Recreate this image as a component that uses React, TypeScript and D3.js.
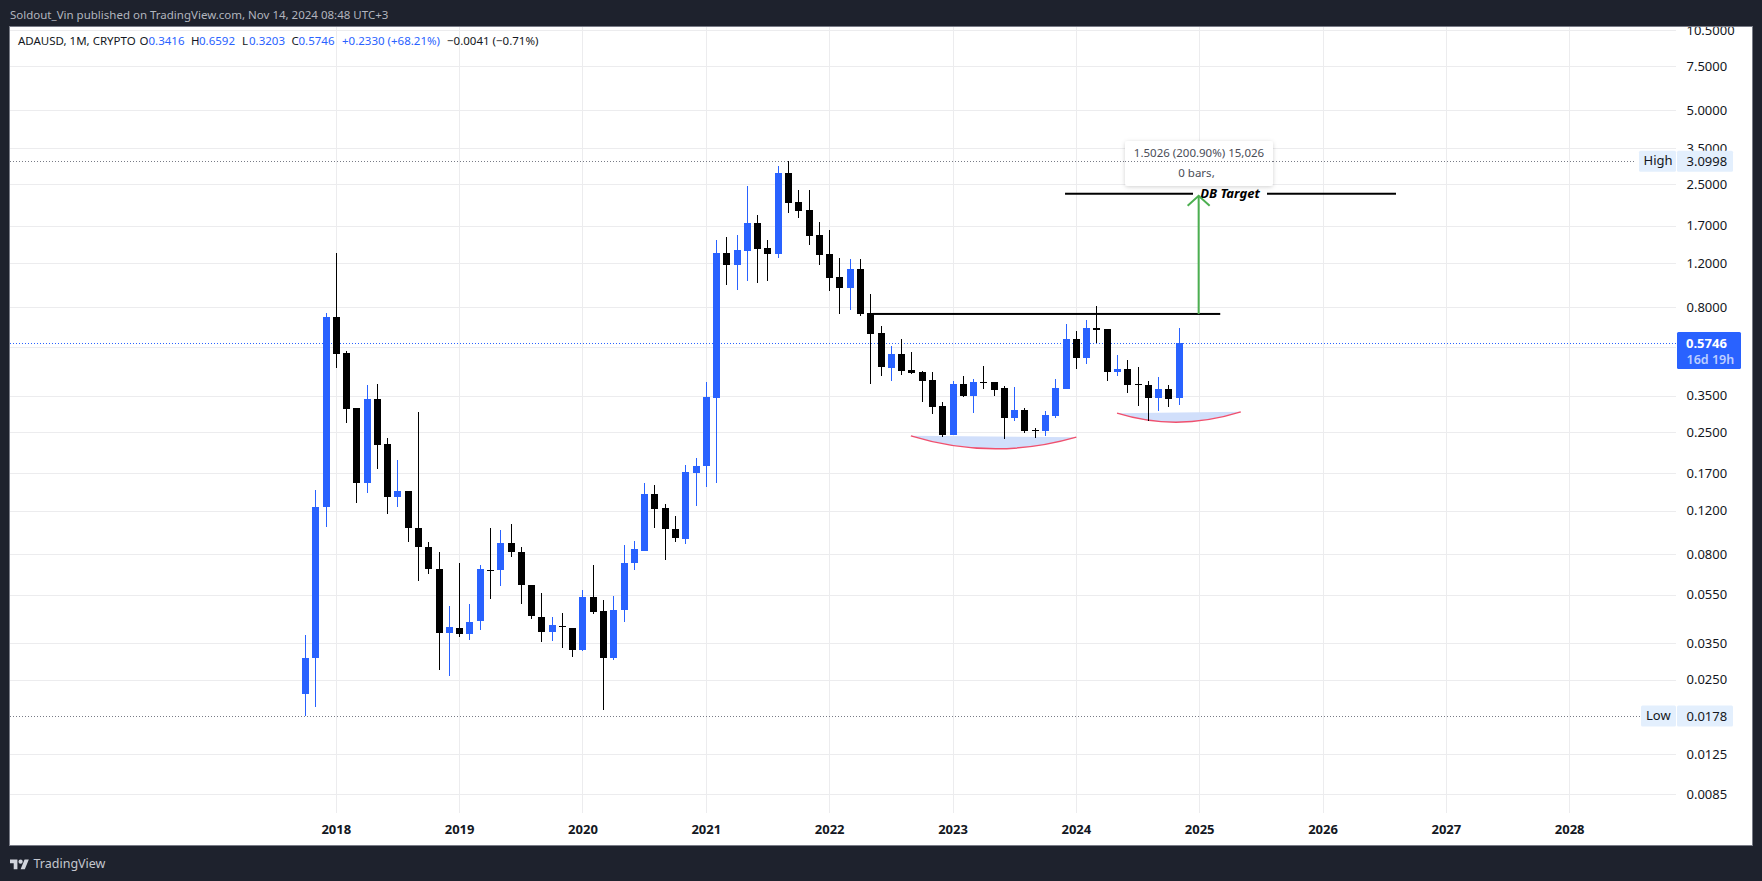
import React from "react";
import * as d3 from "d3";

const firstMonth = -3; // months after 2018-01
const highs = [.03796,.1461,.7546,1.322,.5316,.3130,.3876,.3912,.2368,.1930,.1447,.3016,.09009,.08209,.04970,.07411,.05063,.07275,.1026,.1007,.1065,.08600,.06041,.05608,.04487,.04657,.04051,.05767,.07275,.05255,.05454,.08761,.09093,.1559,.1530,.1282,.1147,.1843,.1967,.3985,1.491,1.534,1.562,2.463,1.881,1.491,2.967,3.0998,2.374,2.374,1.763,1.637,1.262,1.250,1.250,.9029,.6706,.5569,.5943,.5267,.4414,.4373,.3309,.4022,.4214,.4098,.4624,.3985,.3840,.3804,.3130,.2599,.3044,.4098,.6832,.6402,.7091,.8076,.6522,.5122,.4889,.4581,.4022,.4175,.3876,.6592];
const bodyTops = [.03065,.1247,.7291,.7291,.5218,.3130,.3403,.3403,.2240,.1447,.1447,.1026,.08600,.07009,.04089,.04051,.04283,.07009,.06945,.08925,.08925,.08209,.06041,.04487,.04165,.04127,.04051,.05403,.05403,.04744,.04788,.07411,.08441,.1407,.1407,.1236,.1017,.1727,.1826,.3467,1.322,1.322,1.359,1.747,1.747,1.385,2.780,2.780,2.123,1.971,1.562,1.309,1.057,1.139,1.139,.7567,.6284,.5170,.5170,.4455,.4373,.4060,.3188,.3912,.3912,.3985,.3985,.3985,.3769,.3072,.3072,.2551,.2933,.3769,.5943,.5943,.6583,.6583,.6522,.4497,.4497,.3901,.3876,.3734,.3734,.5746];
const bodyBottoms = [.02179,.03045,.1239,.5184,.3109,.1549,.1549,.2225,.1372,.1372,.1019,.08544,.06964,.03842,.03867,.03806,.03806,.04295,.06880,.06900,.08156,.06002,.04499,.03878,.03878,.04062,.03280,.03280,.04700,.03065,.03065,.04788,.07363,.08286,.1224,.1017,.09306,.09263,.1711,.1819,.3435,1.182,1.182,1.346,1.372,1.309,1.309,2.103,1.953,1.548,1.297,1.048,.9573,.9573,.7518,.6243,.4594,.4552,.4426,.4345,.4034,.3168,.2442,.2442,.3499,.3499,.3959,.3700,.2860,.2860,.2527,.2527,.2527,.2905,.3734,.4981,.4981,.6461,.4373,.4373,.3876,.3876,.3435,.3435,.3403,.3416];
const lows = [.0178,.01931,.1029,.4552,.2730,.1286,.1424,.1764,.1161,.1239,.08950,.06229,.06648,.02724,.02576,.03702,.03600,.03950,.05270,.05946,.07786,.05030,.04376,.03534,.03567,.03342,.03074,.03250,.04614,.01883,.02995,.04283,.06945,.08286,.1026,.07621,.09009,.08843,.1259,.1502,.1559,.9817,.9371,1.019,1.000,1.019,1.262,1.917,1.830,1.424,1.182,.9284,.7518,.7803,.7380,.3923,.4225,.4034,.4265,.4305,.3318,.2968,.2397,.2442,.3467,.2988,.3734,.3499,.2353,.2781,.2481,.2375,.2413,.2852,.3734,.4497,.4711,.5726,.4022,.4214,.3598,.3188,.2774,.3044,.3159,.3203];
const risingBars = [0,1,2,6,9,14,16,17,19,24,27,30,31,32,33,37,38,39,40,42,43,46,53,57,63,65,69,72,73,74,76,79,83,85];

const yearLabels = [2018,2019,2020,2021,2022,2023,2024,2025,2026,2027,2028];
const gridPrices = [10.5,7.5,5,3.5,2.5,1.7,1.2,.8,.55,.35,.25,.17,.12,.08,.055,.035,.025,.0125,.0086];
const labelPrices = [10.5,7.5,5,3.5,2.5,1.7,1.2,.8,.35,.25,.17,.12,.08,.055,.035,.025,.0125,.0086];
const priceLabels = ["10.5000","7.5000","5.0000","3.5000","2.5000","1.7000","1.2000","0.8000","0.3500","0.2500","0.1700","0.1200","0.0800","0.0550","0.0350","0.0250","0.0125","0.0085"];
const allTimeHigh = 3.0998, allTimeLow = 0.0178, lastPrice = 0.5746;

const neckline = { from: 52.2, to: 86, price: 0.7497 };
const target = { from: 70.9, to: 103.1, price: 2.2935 };
const arrow = { month: 83.9, from: 0.7497, to: 2.25 };
const cups = [
  { start: [55.9, 0.2412], bottom: [63.9, 0.2138], end: [72, 0.2383] },
  { start: [75.96, 0.2979], bottom: [81.8, 0.2740], end: [88, 0.3015] },
];

const W = 1762, H = 881;
const FONT = "'Noto Sans', sans-serif";
const x = d3.scaleLinear().domain([0, 120]).range([336.3, 1569.7]);
const y = d3.scaleLog().domain([10.5, 0.0085]).range([30.2, 795.5]);
const GRID = "#ececee";
const BLUE = "#2962ff";
const LEG = 11.5;
const LEG_Y = 41;

function cupPath(c: typeof cups[number]) {
  const x0 = x(c.start[0]), y0 = y(c.start[1]), x1 = x(c.end[0]), y1 = y(c.end[1]);
  const my = y(c.bottom[1]);
  const cy = 2 * my - (y0 + y1) / 2;
  const cx = x(c.bottom[0]);
  const p = d3.path();
  p.moveTo(x0, y0);
  p.quadraticCurveTo(cx, cy, x1, y1);
  return p.toString();
}

const legendItems: [number, string, boolean][] = [
  [18, "ADAUSD, 1M, CRYPTO", false],
  [139.5, "O", false], [148.5, "0.3416", true],
  [191, "H", false], [199, "0.6592", true],
  [242, "L", false], [249, "0.3203", true],
  [291.5, "C", false], [298.5, "0.5746", true],
  [342, "+0.2330 (+68.21%)", true],
  [447, "−0.0041 (−0.71%)", false],
];

export default function App() {
  const tipX = x(arrow.month), tipY = y(arrow.to);
  const markers = [
    { label: "High", v: allTimeHigh, t: "3.0998", boxX: 1639, textX: 1643.5, lineEnd: 1636 },
    { label: "Low", v: allTimeLow, t: "0.0178", boxX: 1641, textX: 1646, lineEnd: 1640 },
  ];
  return (
    <svg width={W} height={H} style={{ position: "fixed", left: 0, top: 0, display: "block" }} fontFamily={FONT}>
      <defs>
        <clipPath id="frame"><rect x={10} y={27} width={1742} height={818} /></clipPath>
        <filter id="shadow" x="-10%" y="-20%" width="120%" height="150%">
          <feDropShadow dx={0} dy={1} stdDeviation={2} floodColor="#000" floodOpacity={0.18} />
        </filter>
      </defs>
      <rect width={W} height={H} fill="#1e222d" />
      <rect x={9.5} y={26.5} width={1743} height={819} fill="#fff" stroke="#787b86" />
      <g clipPath="url(#frame)">
        {gridPrices.map((t) => <rect key={t} x={10} y={Math.round(y(t))} width={1666} height={1} fill={GRID} />)}
        {yearLabels.map((yr, i) => <rect key={yr} x={Math.floor(x(i * 12))} y={27} width={1} height={786} fill={GRID} />)}

        {markers.map((m) => (
          <line key={m.label} x1={10} x2={m.lineEnd} y1={Math.round(y(m.v)) + .5} y2={Math.round(y(m.v)) + .5} stroke="#787b86" strokeDasharray="1 2" />
        ))}

        {cups.map((c, i) => <path key={"f" + i} d={cupPath(c)} fill="#d1dffb" stroke="none" />)}
        {cups.map((c, i) => <path key={"s" + i} d={cupPath(c)} fill="none" stroke="#f0506e" strokeWidth={1.5} />)}

        <line x1={10} x2={1676} y1={Math.round(y(lastPrice)) + .5} y2={Math.round(y(lastPrice)) + .5} stroke={BLUE} strokeDasharray="1 2" />

        {highs.map((h, i) => {
          const xc = Math.floor(x(firstMonth + i));
          const up = risingBars.includes(i);
          const col = up ? BLUE : "#000";
          const yt = Math.round(y(bodyTops[i])), yb = Math.max(Math.round(y(bodyBottoms[i])), yt + 1);
          const yh = Math.round(y(h)), yl = Math.round(y(lows[i]));
          return (
            <g key={i} fill={col} shapeRendering="crispEdges">
              <rect x={xc} y={yh} width={1} height={Math.max(yl - yh, 1)} />
              <rect x={xc - 3} y={yt} width={7} height={yb - yt} />
            </g>
          );
        })}

        {/* drawings */}
        <rect x={x(neckline.from)} y={y(neckline.price) - 1} width={x(neckline.to) - x(neckline.from)} height={2} fill="#000" />
        <rect x={x(target.from)} y={y(target.price) - 1} width={x(target.to) - x(target.from)} height={2} fill="#000" />
        <rect x={1193} y={y(target.price) - 10} width={74} height={20} fill="#fff" />
        <text x={1230} y={y(target.price)} dy="0.35em" textAnchor="middle" fontWeight={700} fontStyle="italic" fontSize={13} fill="#000">DB Target</text>

        <g stroke="#4caf50" strokeWidth={2} fill="none">
          <line x1={tipX} x2={tipX} y1={y(arrow.from)} y2={tipY} />
          <polyline points={`${tipX - 11},${tipY + 10} ${tipX},${tipY} ${tipX + 11},${tipY + 10}`} />
        </g>

        <rect x={1125} y={141} width={148} height={45} rx={3} fill="#fff" filter="url(#shadow)" />
        <line x1={1125} x2={1273} y1={Math.round(y(allTimeHigh)) + .5} y2={Math.round(y(allTimeHigh)) + .5} stroke="#787b86" strokeDasharray="1 2" />
        <text x={1199} y={152.5} dy="0.35em" textAnchor="middle" fontSize={11.5} fill="#4a4d57">1.5026 (200.90%) 15,026</text>
        <text x={1196.5} y={172.5} dy="0.35em" textAnchor="middle" fontSize={11.5} fill="#4a4d57">0 bars,</text>

        {/* axes */}
        {priceLabels.map((l, i) => <text key={l} x={1686.5} y={y(labelPrices[i])} dy="0.35em" fontSize={13} fill="#131722">{l}</text>)}
        {yearLabels.map((yr, i) => <text key={yr} x={x(i * 12)} y={829} dy="0.35em" textAnchor="middle" fontSize={13} fontWeight={700} fill="#131722">{yr}</text>)}

        {markers.map((m) => (
          <g key={m.label}>
            <rect x={m.boxX} y={y(m.v) - 10.5} width={1676 - m.boxX} height={21} rx={1.5} fill="#e3effd" />
            <rect x={1677} y={y(m.v) - 10.5} width={56} height={21} rx={1.5} fill="#e3effd" />
            <text x={m.textX} y={y(m.v) - 0.5} dy="0.35em" fontSize={13} fill="#131722">{m.label}</text>
            <text x={1686.5} y={y(m.v) + 0.5} dy="0.35em" fontSize={13} fill="#131722">{m.t}</text>
          </g>
        ))}
        <rect x={1677} y={332} width={64} height={37} rx={1.5} fill={BLUE} />
        <text x={1686} y={343} dy="0.35em" fontSize={13} fontWeight={700} fill="#fff">0.5746</text>
        <text x={1686.5} y={359.5} dy="0.35em" fontSize={12.5} fontWeight={600} fill="#fff" fillOpacity={0.7}>16d 19h</text>

        {/* legend */}
        {legendItems.map(([lx, t, blue]) => (
          <text key={t + lx} x={lx} y={LEG_Y} dy="0.35em" fontSize={LEG} fill={blue ? BLUE : "#131722"}>{t}</text>
        ))}
      </g>

      <text x={10} y={15} dy="0.35em" fontSize={11.5} fill="#b2b5be">Soldout_Vin published on TradingView.com, Nov 14, 2024 08:48 UTC+3</text>

      {/* logo */}
      <g transform="translate(10,857.5) scale(0.53)" fill="#d1d4dc">
        <path d="M14 22H7V11H0V4h14v18zM28 22h-8l7.5-18h8L28 22z" />
        <circle cx={20} cy={8} r={4} />
      </g>
      <text x={33.5} y={864} dy="0.35em" fontSize={12.5} fill="#c4c7cf">TradingView</text>
    </svg>
  );
}
